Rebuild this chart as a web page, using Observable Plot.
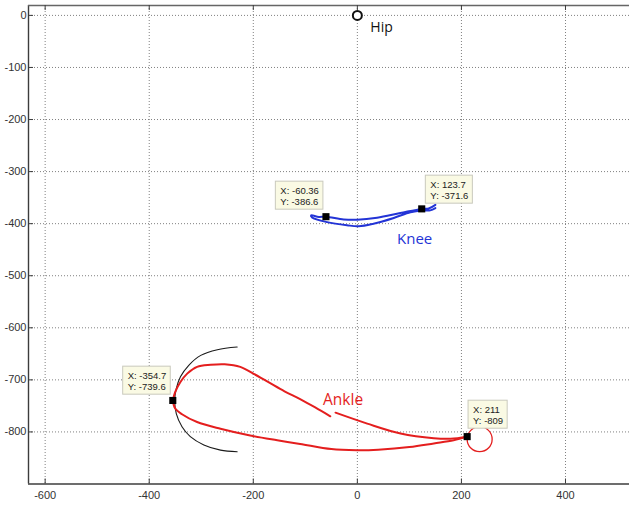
<!DOCTYPE html>
<html><head><meta charset="utf-8">
<script src="https://cdn.jsdelivr.net/npm/d3@7"></script>
<script src="https://cdn.jsdelivr.net/npm/@observablehq/plot@0.6"></script>
<style>
html,body{margin:0;padding:0;background:#fff;}
#chart{width:629px;height:506px;overflow:hidden;}
</style></head><body><div id="chart"></div>
<script>
// ---- axis limits and ticks ----
const xDomain = [-632, 523];
const yDomain = [-900, 19];
const xTicks = [-600, -400, -200, 0, 200, 400];
const yTicks = [0, -100, -200, -300, -400, -500, -600, -700, -800];

// ---- hip ----
const hipX = [0];
const hipY = [0];

// ---- knee trajectory ----
const kneeX = [150, 137, 123.7, 82.6, 37.9, -0.6, -26.3, -60.36, -74, -89, -87, -58, -20, 2.5, 31, 70, 102, 124, 140, 150];
const kneeY = [-364, -371, -371.6, -379.6, -388.6, -392.4, -391.8, -386.6, -387, -384, -388, -397, -403, -405, -400, -389, -378, -374.5, -374.5, -370];

// ---- ankle trajectory (three strokes) ----
const ankleX = [-354.7, -350, -340, -327, -308, -282, -255, -225, -200, -170, -140, -110, -81, -52,
                -42, 19, 83, 147, 179, 211,
                211, 185, 147, 100, 40, 0, -50, -110, -154, -206, -263, -308, -337, -350, -354.7];
const ankleY = [-739.6, -723, -704, -688, -675, -671, -670, -675, -688, -705, -722, -737, -753, -770,
                -763, -784, -803, -812, -813, -809,
                -809, -816, -822, -829, -834, -835, -833, -823, -816, -807, -794, -781, -766, -755, -739.6];
const ankleStroke = ["a","a","a","a","a","a","a","a","a","a","a","a","a","a",
                     "b","b","b","b","b","b",
                     "c","c","c","c","c","c","c","c","c","c","c","c","c","c","c"];

// ---- black arc ----
const arcX = [-231, -269, -301, -324, -340, -348, -351, -348, -337, -321, -295, -263, -231];
const arcY = [-637, -642, -653, -672, -694, -717, -739, -765, -790, -809, -825, -835, -838];

// ---- red circle marker ----
const circleX = [235];
const circleY = [-814];

// ---- data tips ----
const tipX = [-60.36, 123.7, -354.7, 211];
const tipY = [-386.6, -371.6, -739.6, -809];

// ---- labels ----
const labelText = ["Hip", "Knee", "Ankle"];
const labelX = [25, 76.3, -65.9];
const labelY = [-32.1, -439.8, -747.6];

// ---- styles / offsets (not data) ----
const tipDx = [-45.6, 8.6, -45.1, 5.9];
const tipDy = [-11.5, -9.7, -10.3, -12.4];
const labelColor = ["#111111", "#2334d6", "#e41e1e"];
const labelSize = [14, 15, 15.5];

const W = 629, H = 506, mL = 28, mR = 0, mT = 5, mB = 22.5;
const frameW = W - mL - mR, frameH = H - mT - mB;

const zip = (xs, ys, extra = {}) => xs.map((x, i) => {
  const o = {x, y: ys[i]};
  for (const k in extra) o[k] = extra[k][i];
  return o;
});

const knee = zip(kneeX, kneeY);
const ankle = zip(ankleX, ankleY, {s: ankleStroke});
const arc = zip(arcX, arcY);
const tips = zip(tipX, tipY).map(d => ({...d, text: `X: ${d.x}\nY: ${d.y}`}));
const labels = labelText.map((t, i) => ({text: t, x: labelX[i], y: labelY[i], i}));

const gridStyle = {stroke: "#808080", strokeOpacity: 1, strokeWidth: 1, strokeDasharray: "1,2"};
const axisColor = "#3c3c3c";

const marks = [
  Plot.ruleX(xTicks, gridStyle),
  Plot.ruleY(yTicks, gridStyle),
  Plot.line(arc, {x: "x", y: "y", stroke: "#1a1a1a", strokeWidth: 1.1, curve: "catmull-rom"}),
  Plot.line(knee, {x: "x", y: "y", stroke: "#2334d6", strokeWidth: 2, curve: "catmull-rom"}),
  Plot.line(ankle, {x: "x", y: "y", z: "s", stroke: "#e41e1e", strokeWidth: 2, curve: "catmull-rom"}),
  Plot.dot(zip(circleX, circleY), {x: "x", y: "y", r: 12.5, stroke: "#e41e1e", strokeWidth: 1.3, fill: "white"}),
  Plot.dot(tips, {x: "x", y: "y", symbol: "square", r: 4, fill: "black", stroke: "none"}),
  Plot.dot(zip(hipX, hipY), {x: "x", y: "y", r: 4.5, stroke: "#111", strokeWidth: 2, fill: "white"}),
  Plot.text(labels, {x: "x", y: "y", text: "text", textAnchor: "start", lineAnchor: "bottom",
    fill: d => labelColor[d.i], fontSize: d => labelSize[d.i], fontFamily: "Open Sans, sans-serif"}),
  ...tips.map((d, i) => Plot.text([d], {x: "x", y: "y", text: "text", textAnchor: "start", lineAnchor: "bottom",
    lineHeight: 1.16, dx: tipDx[i], dy: tipDy[i], fontSize: 9.5, fill: "#222",
    fontFamily: "Liberation Sans, Arial, sans-serif", ariaDescription: "datatip"})),
  Plot.ruleX([xDomain[0]], {stroke: axisColor, strokeWidth: 1.4}),
  Plot.ruleY([yDomain[0]], {stroke: axisColor, strokeWidth: 1.4}),
  Plot.ruleY([yDomain[1]], {stroke: "#666", strokeWidth: 1.6}),
  Plot.tickX(xTicks, {x: d => d, insetTop: frameH - 5, stroke: axisColor}),
  Plot.tickX(xTicks, {x: d => d, insetBottom: frameH - 5, stroke: axisColor}),
  Plot.tickY(yTicks, {y: d => d, insetRight: frameW - 5, stroke: axisColor}),
  Plot.text(xTicks, {x: d => d, frameAnchor: "bottom", text: d => String(d), lineAnchor: "top", dy: 7,
    fontSize: 11, fill: "#333", fontFamily: "Liberation Sans, Arial, sans-serif"}),
  Plot.text(yTicks, {y: d => d, frameAnchor: "left", text: d => String(d), textAnchor: "end", dx: -2,
    fontSize: 11, fill: "#333", fontFamily: "Liberation Sans, Arial, sans-serif"})
];

const svg = Plot.plot({
  width: W, height: H,
  marginLeft: mL, marginRight: mR, marginTop: mT, marginBottom: mB,
  x: {domain: xDomain, axis: null},
  y: {domain: yDomain, axis: null},
  style: {background: "white", fontFamily: "Liberation Sans, Arial, sans-serif", overflow: "visible"},
  marks
});
document.getElementById("chart").appendChild(svg);

// draw the data tip boxes behind their text
svg.querySelectorAll('g[aria-description="datatip"] text').forEach(t => {
  const b = t.getBBox();
  const r = document.createElementNS("http://www.w3.org/2000/svg", "rect");
  r.setAttribute("x", b.x - 5);
  r.setAttribute("y", b.y - 4);
  r.setAttribute("width", b.width + 9);
  r.setAttribute("height", b.height + 6);
  const tr = t.getAttribute("transform");
  if (tr) r.setAttribute("transform", tr);
  r.setAttribute("fill", "#fafae4");
  r.setAttribute("stroke", "#c9c9bd");
  r.setAttribute("stroke-width", "1");
  t.parentNode.insertBefore(r, t);
});
</script></body></html>
